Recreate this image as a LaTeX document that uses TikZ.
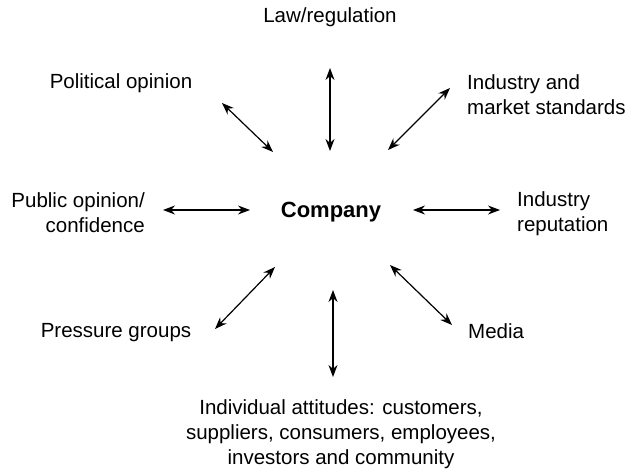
\documentclass[tikz,border=0pt]{standalone}
\usepackage{fontspec}
\setmainfont{Liberation Sans}
\usetikzlibrary{arrows.meta}
\begin{document}
\begin{tikzpicture}[x=1pt,y=-1pt,
        lbl/.style={inner sep=0pt,font=\fontsize{20.5}{25}\selectfont},
        link/.style={{Stealth[length=12pt,width=9pt]}-{Stealth[length=12pt,width=9pt]},
            line width=1.2pt}]
\useasboundingbox (0,0) rectangle (632,473);

% centre
\node[inner sep=0pt,font=\bfseries\fontsize{22}{26}\selectfont,anchor=base] (company) at (331,218) {Company};

% surrounding influences (multi-line nodes placed by their last baseline)
\node[lbl,anchor=base] (law) at (330,23) {Law/regulation};
\node[lbl,anchor=base] (political) at (121,89) {Political opinion};
\node[lbl,anchor=base west,align=left] (standards) at (467,115) {Industry and\\market standards};
\node[lbl,anchor=base east,align=right] (public) at (145,233) {Public opinion/\\confidence};
\node[lbl,anchor=base west,align=left] (reputation) at (517,232) {Industry\\reputation};
\node[lbl,anchor=base] (pressure) at (116,337) {Pressure groups};
\node[lbl,anchor=base west] (media) at (468,338) {Media};
\node[lbl,anchor=base,align=center] (individual) at (341,464) {Individual attitudes: customers,\\suppliers, consumers, employees,\\investors and community};

% arrow ends
\coordinate (law-a) at (330,68);
\coordinate (law-b) at (330,151);
\coordinate (pol-a) at (222,103);
\coordinate (pol-b) at (273,152);
\coordinate (std-a) at (450,88);
\coordinate (std-b) at (388,150);
\coordinate (pub-a) at (163,210);
\coordinate (pub-b) at (250,210);
\coordinate (rep-a) at (413,210);
\coordinate (rep-b) at (500,210);
\coordinate (pre-a) at (275,267);
\coordinate (pre-b) at (215,329);
\coordinate (med-a) at (390,265);
\coordinate (med-b) at (452,325);
\coordinate (ind-a) at (333,290);
\coordinate (ind-b) at (333,377);

\draw[link] (law-a) -- (law-b);
\draw[link] (pol-a) -- (pol-b);
\draw[link] (std-a) -- (std-b);
\draw[link] (pub-a) -- (pub-b);
\draw[link] (rep-a) -- (rep-b);
\draw[link] (pre-a) -- (pre-b);
\draw[link] (med-a) -- (med-b);
\draw[link] (ind-a) -- (ind-b);
\end{tikzpicture}
\end{document}
